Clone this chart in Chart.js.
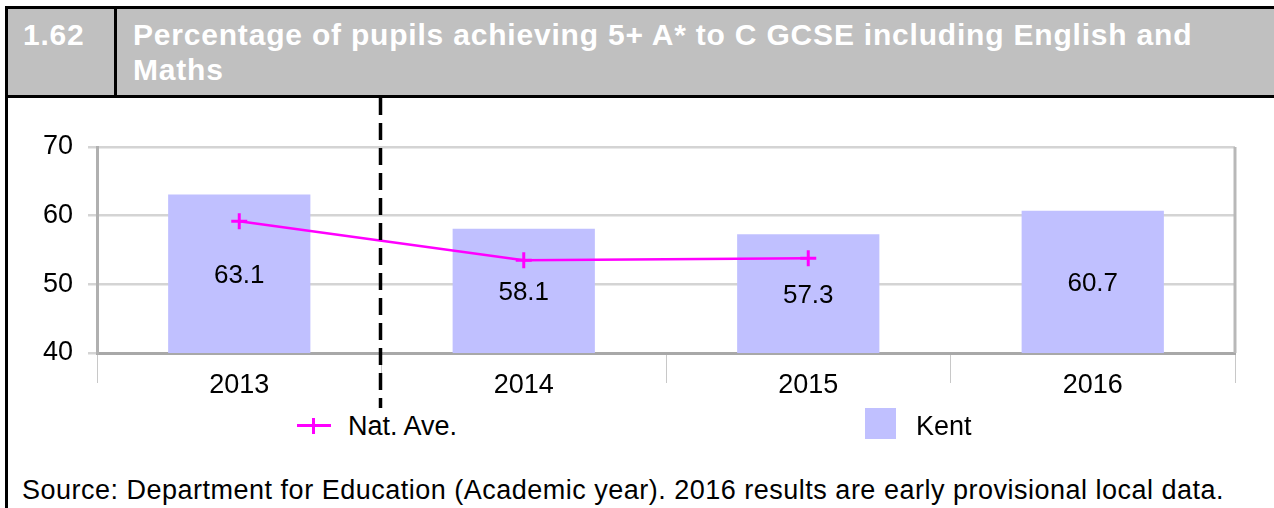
<!DOCTYPE html>
<html>
<head>
<meta charset="utf-8">
<script src="https://cdn.jsdelivr.net/npm/chart.js@4.4.1/dist/chart.umd.min.js"></script>
<style>
  body { margin: 0; width: 1274px; height: 508px; background: #fff; overflow: hidden; position: relative;
         font-family: "Liberation Sans", Arial, sans-serif; }
  .abs { position: absolute; }
  #header { left: 5px; top: 6px; width: 1269px; height: 86px; background: #c0c0c0;
            border-top: 3px solid #000; border-bottom: 3px solid #000; }
  #leftline { left: 5px; top: 6px; width: 3px; height: 502px; background: #000; z-index: 5; }
  #divider { left: 114px; top: 6px; width: 3px; height: 92px; background: #000; }
  .htxt { color: #fff; font-weight: bold; font-size: 30px; line-height: 35px; letter-spacing: 0.8px; }
  #num { left: 23px; top: 17px; }
  #title { left: 133px; top: 17px; width: 1120px; }
  #chartbox { left: 0; top: 98px; width: 1274px; height: 312px; }
  .leg { font-size: 27px; color: #000; }
  #source { left: 22px; top: 475px; font-size: 27px; letter-spacing: 0.5px; color: #000; white-space: nowrap; }
</style>
</head>
<body>
<div id="header" class="abs"></div>
<div id="divider" class="abs"></div>
<div id="leftline" class="abs"></div>
<div id="num" class="abs htxt">1.62</div>
<div id="title" class="abs htxt">Percentage of pupils achieving 5+ A* to C GCSE including English and Maths</div>

<div id="chartbox" class="abs"><canvas id="gcse_chart" width="1274" height="312"></canvas></div>

<!-- legend -->
<div class="abs" style="left:297px;top:424px;width:34px;height:3px;background:#ff00ff"></div>
<div class="abs" style="left:312px;top:418px;width:3px;height:16px;background:#ff00ff"></div>
<div class="abs leg" style="left:348px;top:411px">Nat. Ave.</div>
<div class="abs" style="left:865px;top:408px;width:31px;height:31px;background:rgb(192,192,255)"></div>
<div class="abs leg" style="left:916px;top:411px">Kent</div>

<div id="source" class="abs">Source: Department for Education (Academic year). 2016 results are early provisional local data.</div>

<script>
let years = ['2013', '2014', '2015', '2016'];
let kent_values = [63.1, 58.1, 57.3, 60.7];
let national_values = [59.2, 53.5, 53.8, null];
let y_min = 40;
let y_max = 70;
let y_step = 10;

const font_family = '"Liberation Sans", Arial, sans-serif';

// value labels in the middle of each bar
const bar_labels = {
    id: 'bar_labels',
    afterDatasetsDraw(chart) {
        let ctx = chart.ctx;
        let meta = chart.getDatasetMeta(1);
        let bottom = chart.scales.y.getPixelForValue(y_min);
        ctx.save();
        ctx.font = '26px ' + font_family;
        ctx.fillStyle = '#000';
        ctx.textAlign = 'center';
        ctx.textBaseline = 'middle';
        meta.data.forEach((bar, i) => {
            ctx.fillText(kent_values[i].toFixed(1), bar.x, (bar.y + bottom) / 2 + 2);
        });
        ctx.restore();
    }
};

// right border of plot + dashed divider between 2013 and 2014
const frame_and_divider = {
    id: 'frame_and_divider',
    beforeDatasetsDraw(chart) {
        let ctx = chart.ctx;
        let area = chart.chartArea;
        ctx.save();
        ctx.strokeStyle = '#b8b8b8';
        ctx.lineWidth = 3;
        ctx.beginPath();
        ctx.moveTo(area.right, area.top);
        ctx.lineTo(area.right, area.bottom);
        ctx.stroke();
        ctx.restore();
    },
    afterDraw(chart) {
        let ctx = chart.ctx;
        let x = chart.scales.x.getPixelForValue(0.5) - 1;
        ctx.save();
        ctx.strokeStyle = '#000';
        ctx.lineWidth = 3.5;
        ctx.setLineDash([17, 8]);
        ctx.beginPath();
        ctx.moveTo(x, 0);
        ctx.lineTo(x, 310);
        ctx.stroke();
        ctx.restore();
    }
};

let ctx = document.getElementById('gcse_chart').getContext('2d');

const data = {
    labels: years,
    datasets: [
        {
            type: 'line',
            label: 'Nat. Ave.',
            data: national_values,
            borderColor: '#ff00ff',
            backgroundColor: '#ff00ff',
            borderWidth: 2.5,
            pointStyle: 'cross',
            pointRadius: 8,
            pointBorderWidth: 3,
            tension: 0,
            order: 0
        },
        {
            type: 'bar',
            label: 'Kent',
            data: kent_values,
            backgroundColor: 'rgb(192, 192, 255)',
            borderWidth: 0,
            categoryPercentage: 1,
            barPercentage: 0.5,
            order: 1
        }
    ]
};

const config = {
    type: 'bar',
    data: data,
    options: {
        responsive: false,
        animation: false,
        layout: { padding: { top: 49, right: 39, bottom: 0, left: 0 } },
        plugins: {
            legend: { display: false },
            tooltip: { enabled: false }
        },
        scales: {
            x: {
                grid: {
                    offset: true,
                    drawOnChartArea: false,
                    tickLength: 30,
                    color: '#c8c8c8',
                    lineWidth: 1
                },
                border: { color: '#a8a8a8', width: 3 },
                ticks: {
                    color: '#000',
                    padding: -14,
                    font: { family: font_family, size: 27 }
                },
                afterFit: (scale) => { scale.height = 57; }
            },
            y: {
                min: y_min,
                max: y_max,
                ticks: {
                    stepSize: y_step,
                    color: '#000',
                    padding: 15,
                    font: { family: font_family, size: 27 }
                },
                grid: { color: '#d4d4d4', lineWidth: 2.5, tickLength: 9 },
                border: { color: '#b0b0b0', width: 3 },
                afterFit: (scale) => { scale.width = 97; }
            }
        }
    },
    plugins: [bar_labels, frame_and_divider]
};

let created_chart = new Chart(ctx, config);
</script>
</body>
</html>
